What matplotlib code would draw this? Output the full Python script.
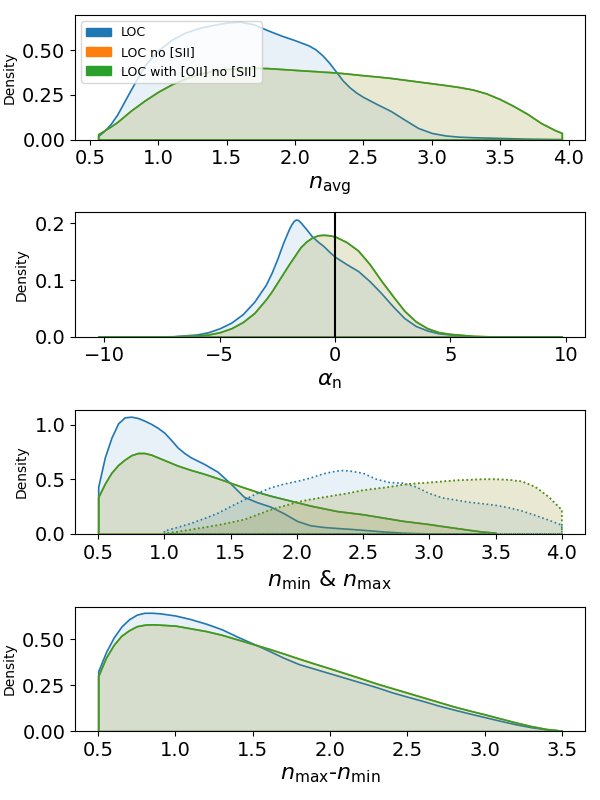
import matplotlib
matplotlib.use("Agg")
import matplotlib.pyplot as plt
from matplotlib.patches import Patch
from matplotlib.colors import to_rgba

# ---- data (KDE densities) ----
labels = ["LOC", "LOC no [SII]", "LOC with [OII] no [SII]"]
colors = ["tab:blue", "tab:orange", "tab:green"]

# panel 1: n_avg
navg_x = [0.561, 0.6, 0.65, 0.7, 0.75, 0.8, 0.9, 1.0, 1.1, 1.2, 1.3, 1.4, 1.5, 1.6,
          1.7, 1.8, 1.9, 2.0, 2.1, 2.15, 2.2, 2.25, 2.3, 2.35, 2.4, 2.45, 2.5, 2.6,
          2.7, 2.8, 2.9, 3.0, 3.1, 3.2, 3.3, 3.4, 3.5, 3.6, 3.7, 3.8, 3.9, 3.951]
navg_loc = [0.02, 0.045, 0.085, 0.14, 0.21, 0.28, 0.415, 0.50, 0.56, 0.60, 0.625,
            0.642, 0.655, 0.66, 0.645, 0.612, 0.582, 0.556, 0.527, 0.505, 0.472,
            0.43, 0.38, 0.33, 0.292, 0.262, 0.238, 0.198, 0.16, 0.112, 0.065,
            0.037, 0.023, 0.016, 0.013, 0.011, 0.009, 0.007, 0.005, 0.004, 0.003,
            0.003]
navg_oii = [0.03, 0.048, 0.072, 0.098, 0.13, 0.162, 0.218, 0.268, 0.31, 0.343, 0.368,
            0.385, 0.395, 0.40, 0.402, 0.40, 0.395, 0.39, 0.385, 0.383, 0.38, 0.378,
            0.375, 0.372, 0.368, 0.364, 0.36, 0.353, 0.345, 0.335, 0.325, 0.315,
            0.305, 0.294, 0.28, 0.258, 0.226, 0.187, 0.143, 0.092, 0.053, 0.037]
navg_nosii = list(navg_oii)

# panel 2: alpha_n
alpha_x = [-10.27, -8, -7, -6, -5.5, -5, -4.5, -4, -3.5, -3, -2.75, -2.5, -2.25, -2,
           -1.9, -1.8, -1.7, -1.6, -1.5, -1.25, -1, -0.75, -0.5, -0.25, 0, 0.5, 1,
           1.5, 2, 2.5, 3, 3.5, 4, 4.5, 5, 6, 7, 8, 9.83]
alpha_loc = [0, 0.0003, 0.001, 0.004, 0.008, 0.015, 0.025, 0.04, 0.062, 0.092, 0.113,
             0.138, 0.166, 0.19, 0.198, 0.204, 0.207, 0.206, 0.202, 0.19, 0.177,
             0.168, 0.16, 0.15, 0.141, 0.128, 0.116, 0.098, 0.077, 0.054, 0.033,
             0.019, 0.011, 0.006, 0.004, 0.001, 0.0003, 0.0001, 0]
alpha_oii = [0, 0.0002, 0.0007, 0.002, 0.004, 0.008, 0.015, 0.026, 0.042, 0.066, 0.08,
             0.096, 0.112, 0.128, 0.134, 0.14, 0.146, 0.152, 0.158, 0.168, 0.175,
             0.179, 0.180, 0.179, 0.177, 0.167, 0.152, 0.128, 0.099, 0.072, 0.046,
             0.027, 0.015, 0.008, 0.005, 0.0015, 0.0004, 0.0001, 0]
alpha_nosii = list(alpha_oii)

# panel 3: n_min (solid) and n_max (dotted)
nmin_x = [0.5, 0.55, 0.6, 0.65, 0.7, 0.75, 0.8, 0.85, 0.9, 0.95, 1.0, 1.05, 1.1, 1.15,
          1.2, 1.3, 1.4, 1.5, 1.6, 1.7, 1.8, 1.9, 2.0, 2.1, 2.2, 2.3, 2.4, 2.5, 2.6,
          2.7, 2.8, 2.9, 3.0, 3.1, 3.2, 3.3, 3.4, 3.5]
nmin_loc = [0.43, 0.70, 0.88, 1.01, 1.066, 1.072, 1.06, 1.035, 1.006, 0.97, 0.925, 0.86,
            0.79, 0.74, 0.70, 0.64, 0.57, 0.46, 0.34, 0.29, 0.25, 0.19, 0.12, 0.08,
            0.064, 0.055, 0.047, 0.038, 0.028, 0.019, 0.012, 0.008, 0.005, 0.003,
            0.002, 0.001, 0.0007, 0.0005]
nmin_oii = [0.337, 0.46, 0.56, 0.63, 0.68, 0.72, 0.74, 0.74, 0.725, 0.70, 0.675, 0.65,
            0.625, 0.605, 0.585, 0.55, 0.51, 0.467, 0.425, 0.385, 0.35, 0.32, 0.29,
            0.26, 0.235, 0.21, 0.195, 0.18, 0.16, 0.14, 0.12, 0.105, 0.09, 0.072,
            0.055, 0.038, 0.022, 0.012]
nmin_nosii = list(nmin_oii)

nmax_x = [1.0, 1.1, 1.2, 1.3, 1.4, 1.5, 1.6, 1.7, 1.8, 1.9, 2.0, 2.1, 2.2, 2.3, 2.35,
          2.4, 2.5, 2.6, 2.7, 2.8, 2.9, 3.0, 3.1, 3.2, 3.3, 3.4, 3.5, 3.6, 3.7, 3.8,
          3.9, 4.0]
nmax_loc = [0.027, 0.06, 0.096, 0.14, 0.187, 0.25, 0.31, 0.37, 0.42, 0.455, 0.48, 0.51,
            0.55, 0.575, 0.58, 0.575, 0.555, 0.50, 0.47, 0.464, 0.43, 0.37, 0.33, 0.31,
            0.29, 0.277, 0.262, 0.24, 0.21, 0.17, 0.127, 0.08]
nmax_oii = [0.005, 0.02, 0.04, 0.06, 0.08, 0.105, 0.13, 0.175, 0.22, 0.255, 0.29, 0.315,
            0.335, 0.355, 0.365, 0.375, 0.40, 0.415, 0.43, 0.45, 0.462, 0.47, 0.48,
            0.49, 0.495, 0.50, 0.50, 0.495, 0.48, 0.43, 0.34, 0.22]
nmax_nosii = list(nmax_oii)

# panel 4: n_max - n_min
ndiff_x = [0.5, 0.55, 0.6, 0.65, 0.7, 0.75, 0.8, 0.85, 0.9, 1.0, 1.1, 1.2, 1.3, 1.4,
           1.5, 1.6, 1.7, 1.8, 1.9, 2.0, 2.1, 2.2, 2.3, 2.4, 2.5, 2.6, 2.7, 2.8, 2.9,
           3.0, 3.1, 3.2, 3.3, 3.4, 3.5]
ndiff_loc = [0.326, 0.43, 0.51, 0.57, 0.61, 0.635, 0.645, 0.645, 0.642, 0.63, 0.61,
             0.585, 0.555, 0.515, 0.478, 0.44, 0.40, 0.365, 0.34, 0.315, 0.29, 0.265,
             0.24, 0.212, 0.188, 0.165, 0.14, 0.118, 0.097, 0.077, 0.057, 0.038,
             0.022, 0.01, 0.003]
ndiff_oii = [0.30, 0.40, 0.47, 0.52, 0.55, 0.572, 0.58, 0.582, 0.58, 0.575, 0.56, 0.545,
             0.525, 0.50, 0.475, 0.45, 0.423, 0.395, 0.368, 0.342, 0.315, 0.288, 0.26,
             0.235, 0.21, 0.185, 0.16, 0.135, 0.113, 0.092, 0.07, 0.048, 0.028,
             0.012, 0.003]
ndiff_nosii = list(ndiff_oii)


def kde_fill(ax, x, y, color, ls="-"):
    ax.fill_between(x, 0, y, facecolor=to_rgba(color, 0.1), edgecolor=color,
                    linewidth=1.2, linestyle=ls)


fig, axes = plt.subplots(4, 1, figsize=(6, 8), dpi=100)
fig.subplots_adjust(left=0.125, right=0.975, top=0.981, bottom=0.086, hspace=0.586)

# ---- panel 1 ----
ax = axes[0]
for ys, c in zip([navg_loc, navg_nosii, navg_oii], colors):
    kde_fill(ax, navg_x, ys, c)
ax.set_ylim(0, max(navg_loc) * 1.055)
ax.set_xticks([0.5, 1.0, 1.5, 2.0, 2.5, 3.0, 3.5, 4.0])
ax.set_yticks([0, 0.25, 0.5])
ax.set_xlabel(r"$n_{\rm avg}$", fontsize=16)
handles = [Patch(facecolor=c, edgecolor=c) for c in colors]
ax.legend(handles, labels, loc="upper left", fontsize=9)

# ---- panel 2 ----
ax = axes[1]
for ys, c in zip([alpha_loc, alpha_nosii, alpha_oii], colors):
    kde_fill(ax, alpha_x, ys, c)
ax.axvline(0, color="black", linewidth=1.5)
ax.set_ylim(0, max(alpha_loc) * 1.06)
ax.set_xticks([-10, -5, 0, 5, 10])
ax.set_yticks([0, 0.1, 0.2])
ax.set_xlabel(r"$\alpha_{\rm n}$", fontsize=16)

# ---- panel 3 ----
ax = axes[2]
for ys, c in zip([nmin_loc, nmin_nosii, nmin_oii], colors):
    kde_fill(ax, nmin_x, ys, c)
for ys, c in zip([nmax_loc, nmax_nosii, nmax_oii], colors):
    kde_fill(ax, nmax_x, ys, c, ls=":")
ax.set_ylim(0, max(nmin_loc) * 1.06)
ax.set_xticks([0.5, 1.0, 1.5, 2.0, 2.5, 3.0, 3.5, 4.0])
ax.set_yticks([0, 0.5, 1.0])
ax.set_xlabel(r"$n_{\rm min}$ & $n_{\rm max}$", fontsize=16)

# ---- panel 4 ----
ax = axes[3]
for ys, c in zip([ndiff_loc, ndiff_nosii, ndiff_oii], colors):
    kde_fill(ax, ndiff_x, ys, c)
ax.set_ylim(0, max(ndiff_loc) * 1.05)
ax.set_xticks([0.5, 1.0, 1.5, 2.0, 2.5, 3.0, 3.5])
ax.set_yticks([0, 0.25, 0.5])
ax.set_xlabel(r"$n_{\rm max}$-$n_{\rm min}$", fontsize=16)

for ax in axes:
    ax.set_ylabel("Density", fontsize=10)
    ax.tick_params(labelsize=14)

fig.savefig("out.png", dpi=100)
